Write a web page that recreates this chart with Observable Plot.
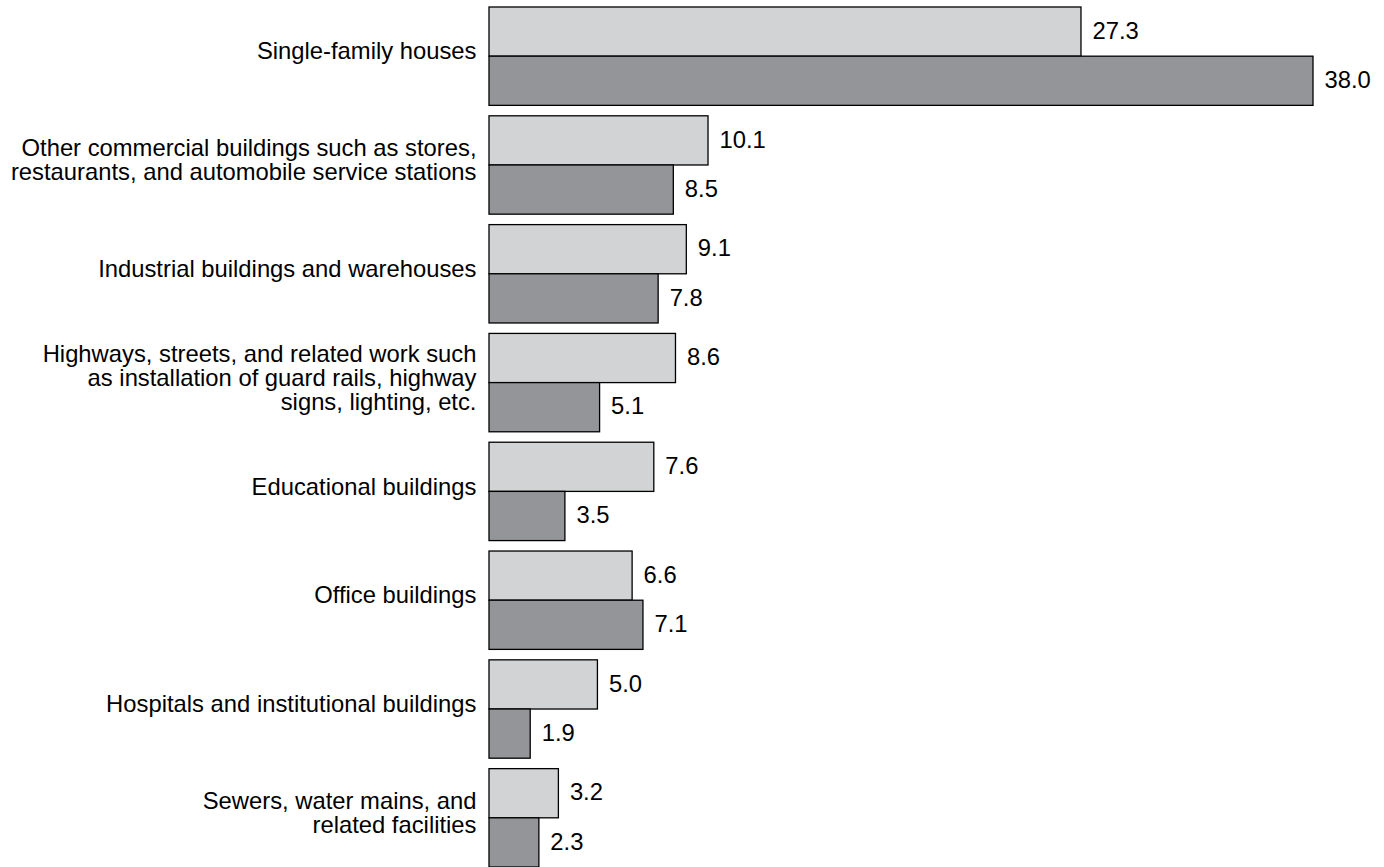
<!DOCTYPE html>
<html><head><meta charset="utf-8">
<script src="https://cdn.jsdelivr.net/npm/d3@7"></script>
<script src="https://cdn.jsdelivr.net/npm/@observablehq/plot@0.6"></script>
<style>body{margin:0;background:#fff;} #chart svg{display:block;}</style>
</head><body><div id="chart"></div>
<script>
const categories = [
  "Single-family houses",
  "Other commercial buildings",
  "Industrial buildings and warehouses",
  "Highways and streets",
  "Educational buildings",
  "Office buildings",
  "Hospitals and institutional buildings",
  "Sewers and water mains"
];
const categoryLabels = [
  "Single-family houses",
  "Other commercial buildings such as stores,\nrestaurants, and automobile service stations",
  "Industrial buildings and warehouses",
  "Highways, streets, and related work such\nas installation of guard rails, highway\nsigns, lighting, etc.",
  "Educational buildings",
  "Office buildings",
  "Hospitals and institutional buildings",
  "Sewers, water mains, and\nrelated facilities"
];
const seriesNames = ["Series 1", "Series 2"];
const lightValues = [27.3, 10.1, 9.1, 8.6, 7.6, 6.6, 5.0, 3.2];
const darkValues  = [38.0, 8.5, 7.8, 5.1, 3.5, 7.1, 1.9, 2.3];
const seriesColors = ["#d1d3d4", "#939598"];

const rows = categories.flatMap((c, i) => [
  {category: c, series: seriesNames[0], value: lightValues[i]},
  {category: c, series: seriesNames[1], value: darkValues[i]}
]);
const labelRows = categories.map((c, i) => ({category: c, label: categoryLabels[i]}));

const chart = Plot.plot({
  width: 1384, height: 867,
  marginLeft: 489, marginRight: 71, marginTop: 7, marginBottom: 0,
  style: {fontFamily: "'Liberation Sans', Arial, Helvetica, sans-serif", background: "#fff"},
  x: {axis: null, domain: [0, d3.max(lightValues.concat(darkValues))]},
  y: {axis: null, domain: seriesNames, padding: 0, round: false},
  fy: {axis: null, domain: categories, paddingInner: 0.096, paddingOuter: 0, round: false},
  color: {domain: seriesNames, range: seriesColors},
  marks: [
    Plot.barX(rows, {x: "value", y: "series", fy: "category", fill: "series", stroke: "#000", strokeWidth: 1.3}),
    Plot.text(rows, {x: "value", y: "series", fy: "category", text: d => d.value.toFixed(1),
      textAnchor: "start", dx: 11, dy: -1, fontSize: 23.8, fill: "#000"}),
    Plot.text(labelRows, {fy: "category", text: "label", frameAnchor: "left", textAnchor: "end",
      dx: -13, dy: -5, fontSize: 23.8, lineHeight: 1.0, fill: "#000"})
  ]
});
document.getElementById("chart").append(chart);
</script>
</body></html>
